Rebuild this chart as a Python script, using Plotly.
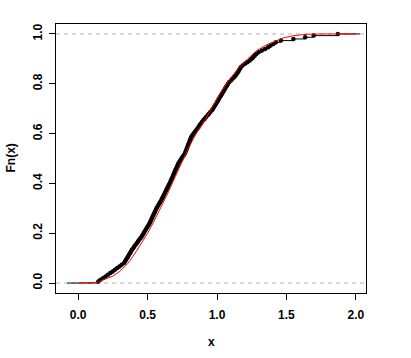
import plotly.graph_objects as go

# Sorted sample values read from the ECDF (n = 150)
sample_x = [
    0.145, 0.160, 0.180, 0.197, 0.214, 0.231, 0.248, 0.264, 0.281, 0.297,
    0.313, 0.330, 0.337, 0.344, 0.351, 0.359, 0.366, 0.373, 0.380, 0.387,
    0.396, 0.404, 0.413, 0.422, 0.430, 0.439, 0.448, 0.457, 0.464, 0.471,
    0.478, 0.485, 0.492, 0.500, 0.507, 0.514, 0.520, 0.525, 0.531, 0.536,
    0.542, 0.547, 0.553, 0.558, 0.564, 0.571, 0.578, 0.585, 0.592, 0.599,
    0.605, 0.611, 0.617, 0.623, 0.629, 0.634, 0.640, 0.646, 0.652, 0.658,
    0.664, 0.669, 0.674, 0.680, 0.685, 0.690, 0.695, 0.700, 0.706, 0.711,
    0.716, 0.721, 0.729, 0.736, 0.744, 0.752, 0.760, 0.768, 0.773, 0.778,
    0.782, 0.787, 0.791, 0.796, 0.801, 0.805, 0.810, 0.814, 0.822, 0.831,
    0.840, 0.850, 0.859, 0.867, 0.874, 0.882, 0.891, 0.901, 0.911, 0.921,
    0.932, 0.942, 0.952, 0.963, 0.971, 0.978, 0.986, 0.993, 1.000, 1.007,
    1.014, 1.021, 1.029, 1.036, 1.043, 1.050, 1.057, 1.064, 1.072, 1.079,
    1.088, 1.100, 1.111, 1.123, 1.134, 1.143, 1.150, 1.157, 1.164, 1.171,
    1.184, 1.201, 1.218, 1.236, 1.250, 1.261, 1.272, 1.283, 1.299, 1.323,
    1.346, 1.368, 1.386, 1.405, 1.424, 1.460, 1.550, 1.635, 1.696, 1.870,
]

# Fitted (theoretical) CDF, red curve
fit_x = [0.00, 0.10, 0.14, 0.18, 0.25, 0.30, 0.36, 0.41, 0.455, 0.50,
         0.545, 0.59, 0.645, 0.70, 0.75, 0.80, 0.855, 0.915, 0.97, 1.02,
         1.08, 1.15, 1.22, 1.29, 1.36, 1.42, 1.476, 1.55, 1.65, 1.75, 2.00]
fit_F = [0.000, 0.000, 0.003, 0.013, 0.028, 0.047, 0.080, 0.120, 0.158, 0.200,
         0.247, 0.295, 0.360, 0.428, 0.490, 0.549, 0.605, 0.656, 0.710, 0.760,
         0.810, 0.860, 0.900, 0.935, 0.957, 0.972, 0.984, 0.993, 0.999, 1.000, 1.000]

x_ticks = [0.0, 0.5, 1.0, 1.5, 2.0]
y_ticks = [0.0, 0.2, 0.4, 0.6, 0.8, 1.0]
x_left_end = -0.08
x_right_end = 2.03

n = len(sample_x)
Fn = [(i + 1) / n for i in range(n)]

# horizontal step segments (no verticals), like R's plot.ecdf
seg_x, seg_y = [], []
knots = [x_left_end] + sample_x + [x_right_end]
levels = [0.0] + Fn
for i in range(len(knots) - 1):
    seg_x += [knots[i], knots[i + 1], None]
    seg_y += [levels[i], levels[i], None]

fig = go.Figure()
# 0/1 reference lines
for h in (0.0, 1.0):
    fig.add_trace(go.Scatter(x=[-0.16, 2.073], y=[h, h], mode="lines",
                             line=dict(color="#B3B3B3", width=1, dash="4px,4px"),
                             hoverinfo="skip", showlegend=False))
fig.add_trace(go.Scatter(x=seg_x, y=seg_y, mode="lines",
                         line=dict(color="black", width=1), showlegend=False))
fig.add_trace(go.Scatter(x=sample_x, y=Fn, mode="markers",
                         marker=dict(color="black", size=4.5), showlegend=False))
fig.add_trace(go.Scatter(x=fit_x, y=fit_F, mode="lines",
                         line=dict(color="red", width=1), showlegend=False))

font = dict(family="Liberation Sans, Arial, sans-serif", size=12, color="black",
            weight="bold")
fig.update_layout(
    width=411, height=358,
    margin=dict(l=56, r=45, t=24, b=65),
    paper_bgcolor="white", plot_bgcolor="white",
    font=font,
    showlegend=False,
    xaxis=dict(range=[-0.16, 2.073], tickvals=x_ticks,
               ticktext=[f"{v:.1f}" for v in x_ticks],
               showgrid=False, zeroline=False, showline=True, mirror=True,
               linecolor="black", linewidth=1, ticks="outside", ticklen=6,
               tickcolor="black", ticklabelstandoff=5),
    yaxis=dict(range=[-0.04, 1.04], tickvals=y_ticks,
               ticktext=[f"{v:.1f}" for v in y_ticks], tickangle=-90,
               showgrid=False, zeroline=False, showline=True, mirror=True,
               linecolor="black", linewidth=1, ticks="outside", ticklen=6,
               tickcolor="black", ticklabelstandoff=2),
    annotations=[
        dict(text="x", xref="paper", yref="paper", x=0.5, y=0,
             xanchor="center", yanchor="middle", yshift=-49,
             showarrow=False, font=font),
        dict(text="Fn(x)", xref="paper", yref="paper", x=0, y=0.5,
             xanchor="center", yanchor="middle", xshift=-46, textangle=-90,
             showarrow=False, font=font),
    ],
)

fig.write_html("out.html",
               config={"displayModeBar": False},
               post_script="document.body.style.margin='0';"
                           "document.body.style.overflow='hidden';")
